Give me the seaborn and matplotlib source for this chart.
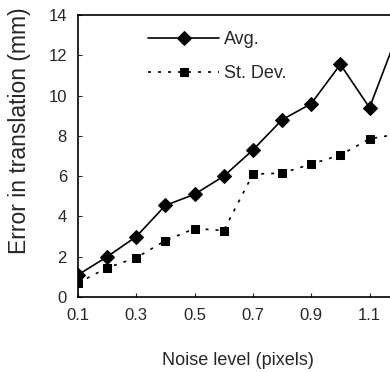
import matplotlib
matplotlib.use("Agg")
import matplotlib.pyplot as plt
import seaborn as sns
import pandas as pd
import numpy as np

#%% data

noise_level = [0.1, 0.2, 0.3, 0.4, 0.5, 0.6, 0.7, 0.8, 0.9, 1.0, 1.1, 1.2]
err_avg = [1.1, 2.0, 3.0, 4.55, 5.1, 6.0, 7.3, 8.8, 9.6, 11.55, 9.4, 13.2]
err_std = [0.7, 1.45, 1.95, 2.8, 3.4, 3.3, 6.1, 6.15, 6.6, 7.05, 7.85, 8.1]
x_ticks = [0.1, 0.3, 0.5, 0.7, 0.9, 1.1]
y_ticks = [0, 2, 4, 6, 8, 10, 12, 14]

df = pd.DataFrame({'noise': noise_level, 'avg': err_avg, 'std': err_std})

#%% plotting

sns.set_style("ticks")
plt.rcParams['font.family'] = ['Liberation Sans', 'DejaVu Sans']
plt.rcParams['xtick.direction'] = 'in'
plt.rcParams['ytick.direction'] = 'in'

fig = plt.figure(figsize=(3.9, 3.72), dpi=100)
# axes run past the right edge, the reference is cropped there
ax = fig.add_axes([0.2, 0.2016, 0.897, 0.758])

sns.lineplot(data=df, x='noise', y='avg', ax=ax, color='black', lw=1.2,
             marker='D', markersize=7.5, markeredgecolor='black', label='Avg.')
sns.lineplot(data=df, x='noise', y='std', ax=ax, color='black', lw=1.2,
             linestyle=(0, (1.8, 4.2)), marker='s', markersize=6,
             markeredgecolor='black', label='St. Dev.')

ax.set_xlim(0.1, 1.3)
ax.set_ylim(0, 14)
ax.set_xticks(x_ticks)
ax.set_xticklabels(["{:.1f}".format(t) for t in x_ticks])
ax.set_yticks(y_ticks)
ax.tick_params(labelsize=12, length=3, width=0.8, pad=8)
for s in ax.spines.values():
    s.set_linewidth(1.2)
    s.set_color('black')

ax.set_xlabel('Noise level (pixels)', fontsize=13)
ax.set_ylabel('Error in translation (mm)', fontsize=16.5)
ax.xaxis.set_label_coords(0.457, -0.195)
ax.yaxis.set_label_coords(-0.134, 0.59)

leg = ax.legend(loc='upper left', bbox_to_anchor=(0.155, 1.0), frameon=False,
                fontsize=13, handlelength=3.9, labelspacing=0.95, handletextpad=0.3)

fig.savefig('out.png', dpi=100)
